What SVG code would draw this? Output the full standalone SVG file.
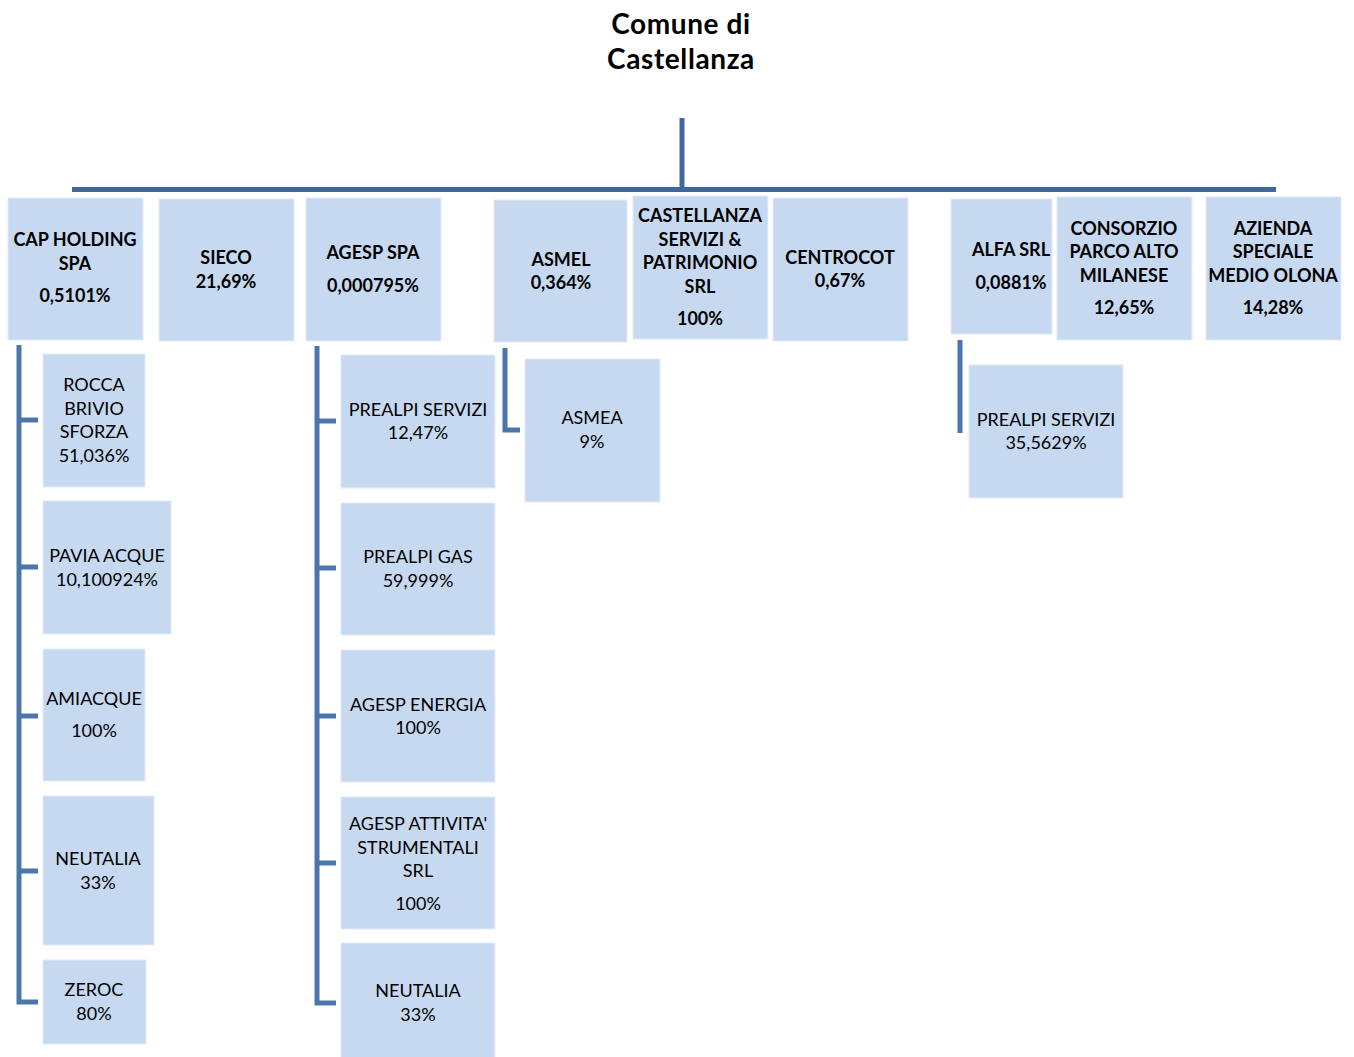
<svg xmlns="http://www.w3.org/2000/svg" width="1354" height="1057" viewBox="0 0 1354 1057">
<style>
.box{fill:#C6D9F1;stroke:#E2ECF8;stroke-width:1}
.b{font-family:Lato,"Liberation Sans",sans-serif;font-weight:bold;font-size:18px;fill:#000;text-anchor:middle}
.r{font-family:Lato,"Liberation Sans",sans-serif;font-size:18px;fill:#000;text-anchor:middle}
.t{font-family:Lato,"Liberation Sans",sans-serif;font-weight:bold;font-size:28px;letter-spacing:0.6px;fill:#000;text-anchor:middle}
.main{stroke:#41679A;stroke-width:5;fill:none}
.sub{stroke:#4A76AB;stroke-width:5;fill:none}
</style>
<rect width="1354" height="1057" fill="#fff"/>
<g id="title">
<text class="t" x="681" y="34">Comune di</text>
<text class="t" x="681" y="69">Castellanza</text>
</g>
<g id="connectors">
<line class="main" x1="682" y1="118" x2="682" y2="190"/>
<line class="main" x1="72" y1="189.5" x2="1276" y2="189.5"/>
<path class="sub" d="M19 345 V1002 H38 M19 420 H38 M19 567 H38 M19 716 H38 M19 871 H38"/>
<path class="sub" d="M317 346 V1003 H336 M317 421 H336 M317 568 H336 M317 716 H336 M317 863 H336"/>
<path class="sub" d="M505 348 V430 H520"/>
<path class="sub" d="M960 340 V433"/>
</g>
<g id="cap">
<rect class="box" x="8" y="198" width="135" height="142"/>
<text class="b" x="75" y="246">CAP HOLDING</text>
<text class="b" x="75" y="270">SPA</text>
<text class="b" x="75" y="302">0,5101%</text>
</g>
<g id="sieco">
<rect class="box" x="159" y="199" width="135" height="142"/>
<text class="b" x="226" y="264">SIECO</text>
<text class="b" x="226" y="288">21,69%</text>
</g>
<g id="agesp">
<rect class="box" x="306" y="198" width="135" height="143"/>
<text class="b" x="373" y="259">AGESP SPA</text>
<text class="b" x="373" y="292">0,000795%</text>
</g>
<g id="asmel">
<rect class="box" x="494" y="200" width="133" height="142"/>
<text class="b" x="561" y="266">ASMEL</text>
<text class="b" x="561" y="289">0,364%</text>
</g>
<g id="castellanza">
<rect class="box" x="633" y="196" width="135" height="143"/>
<text class="b" x="700" y="222">CASTELLANZA</text>
<text class="b" x="700" y="246">SERVIZI &amp;</text>
<text class="b" x="700" y="269">PATRIMONIO</text>
<text class="b" x="700" y="293">SRL</text>
<text class="b" x="700" y="325">100%</text>
</g>
<g id="centrocot">
<rect class="box" x="773" y="198" width="135" height="143"/>
<text class="b" x="840" y="264">CENTROCOT</text>
<text class="b" x="840" y="287">0,67%</text>
</g>
<g id="alfa">
<rect class="box" x="951" y="199" width="101" height="135"/>
<text class="b" x="1011" y="256">ALFA SRL</text>
<text class="b" x="1011" y="289">0,0881%</text>
</g>
<g id="consorzio">
<rect class="box" x="1057" y="197" width="135" height="143"/>
<text class="b" x="1124" y="235">CONSORZIO</text>
<text class="b" x="1124" y="258">PARCO ALTO</text>
<text class="b" x="1124" y="282">MILANESE</text>
<text class="b" x="1124" y="314">12,65%</text>
</g>
<g id="azienda">
<rect class="box" x="1206" y="197" width="135" height="143"/>
<text class="b" x="1273" y="235">AZIENDA</text>
<text class="b" x="1273" y="258">SPECIALE</text>
<text class="b" x="1273" y="282">MEDIO OLONA</text>
<text class="b" x="1273" y="314">14,28%</text>
</g>
<g id="rocca">
<rect class="box" x="43" y="354" width="102" height="133"/>
<text class="r" x="94" y="391">ROCCA</text>
<text class="r" x="94" y="415">BRIVIO</text>
<text class="r" x="94" y="438">SFORZA</text>
<text class="r" x="94" y="462">51,036%</text>
</g>
<g id="pavia">
<rect class="box" x="43" y="501" width="128" height="133"/>
<text class="r" x="107" y="562">PAVIA ACQUE</text>
<text class="r" x="107" y="586">10,100924%</text>
</g>
<g id="amiacque">
<rect class="box" x="43" y="649" width="102" height="132"/>
<text class="r" x="94" y="705">AMIACQUE</text>
<text class="r" x="94" y="737">100%</text>
</g>
<g id="neutalia1">
<rect class="box" x="43" y="796" width="111" height="149"/>
<text class="r" x="98" y="865">NEUTALIA</text>
<text class="r" x="98" y="889">33%</text>
</g>
<g id="zeroc">
<rect class="box" x="43" y="960" width="103" height="84"/>
<text class="r" x="94" y="996">ZEROC</text>
<text class="r" x="94" y="1020">80%</text>
</g>
<g id="prealpi1">
<rect class="box" x="341" y="355" width="154" height="133"/>
<text class="r" x="418" y="416">PREALPI SERVIZI</text>
<text class="r" x="418" y="439">12,47%</text>
</g>
<g id="prealpigas">
<rect class="box" x="341" y="503" width="154" height="132"/>
<text class="r" x="418" y="563">PREALPI GAS</text>
<text class="r" x="418" y="587">59,999%</text>
</g>
<g id="agespenergia">
<rect class="box" x="341" y="650" width="154" height="132"/>
<text class="r" x="418" y="711">AGESP ENERGIA</text>
<text class="r" x="418" y="734">100%</text>
</g>
<g id="agespattivita">
<rect class="box" x="341" y="797" width="154" height="132"/>
<text class="r" x="418" y="830">AGESP ATTIVITA'</text>
<text class="r" x="418" y="854">STRUMENTALI</text>
<text class="r" x="418" y="877">SRL</text>
<text class="r" x="418" y="910">100%</text>
</g>
<g id="neutalia2">
<rect class="box" x="341" y="943" width="154" height="120"/>
<text class="r" x="418" y="997">NEUTALIA</text>
<text class="r" x="418" y="1021">33%</text>
</g>
<g id="asmea">
<rect class="box" x="525" y="359" width="135" height="143"/>
<text class="r" x="592" y="424">ASMEA</text>
<text class="r" x="592" y="448">9%</text>
</g>
<g id="prealpi2">
<rect class="box" x="969" y="365" width="154" height="133"/>
<text class="r" x="1046" y="426">PREALPI SERVIZI</text>
<text class="r" x="1046" y="449">35,5629%</text>
</g>
</svg>
